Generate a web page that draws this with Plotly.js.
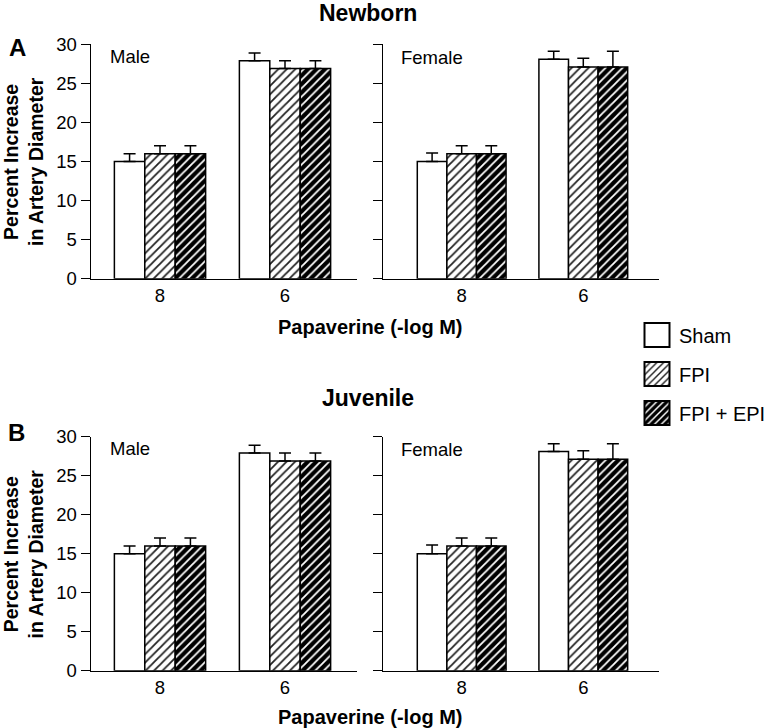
<!DOCTYPE html>
<html><head><meta charset="utf-8">
<script src="https://cdn.plot.ly/plotly-3.0.1.min.js"></script>
<style>body{margin:0;background:#fff}</style>
</head><body><div id="chart" style="width:771px;height:728px"></div>
<script>
// ---- data ----
const categories = ['8', '6'];          // Papaverine (-log M)
const xPositions = [0, 1];
const seriesNames = ['Sham', 'FPI', 'FPI + EPI'];

// Newborn (panel A)
const newbornMaleSham = [15.0, 27.9];
const newbornMaleFPI = [16.0, 26.9];
const newbornMaleFPIEPI = [16.0, 26.9];
const newbornMaleShamErr = [1.0, 1.0];
const newbornMaleFPIErr = [1.0, 1.0];
const newbornMaleFPIEPIErr = [1.0, 1.0];

const newbornFemaleSham = [15.0, 28.1];
const newbornFemaleFPI = [16.0, 27.1];
const newbornFemaleFPIEPI = [16.0, 27.1];
const newbornFemaleShamErr = [1.1, 1.0];
const newbornFemaleFPIErr = [1.0, 1.1];
const newbornFemaleFPIEPIErr = [1.0, 2.0];

// Juvenile (panel B)
const juvenileMaleSham = [15.0, 27.9];
const juvenileMaleFPI = [16.0, 26.9];
const juvenileMaleFPIEPI = [16.0, 26.9];
const juvenileMaleShamErr = [1.0, 1.0];
const juvenileMaleFPIErr = [1.0, 1.0];
const juvenileMaleFPIEPIErr = [1.0, 1.0];

const juvenileFemaleSham = [15.0, 28.1];
const juvenileFemaleFPI = [16.0, 27.1];
const juvenileFemaleFPIEPI = [16.0, 27.1];
const juvenileFemaleShamErr = [1.1, 1.0];
const juvenileFemaleFPIErr = [1.0, 1.1];
const juvenileFemaleFPIEPIErr = [1.0, 2.0];

const noLowerErr = [0, 0];

// ---- styling ----
const FONT = 'Liberation Sans, Arial, sans-serif';
const seriesStyles = [
  {color: 'white', line: {color: 'black', width: 1.5}},
  {color: 'white', line: {color: 'black', width: 1.5},
   pattern: {shape: '/', fgcolor: '#222', bgcolor: 'white', size: 6, solidity: 0.3}},
  {color: 'black', line: {color: 'black', width: 1.5},
   pattern: {shape: '/', fgcolor: 'white', bgcolor: 'black', size: 6, solidity: 0.3}}
];
const groupIds = ['sham', 'fpi', 'fpiepi'];

const panels = [
  {xa: 'x',  ya: 'y',  vals: [newbornMaleSham, newbornMaleFPI, newbornMaleFPIEPI],
   errs: [newbornMaleShamErr, newbornMaleFPIErr, newbornMaleFPIEPIErr], legend: true},
  {xa: 'x2', ya: 'y2', vals: [newbornFemaleSham, newbornFemaleFPI, newbornFemaleFPIEPI],
   errs: [newbornFemaleShamErr, newbornFemaleFPIErr, newbornFemaleFPIEPIErr], legend: false},
  {xa: 'x3', ya: 'y3', vals: [juvenileMaleSham, juvenileMaleFPI, juvenileMaleFPIEPI],
   errs: [juvenileMaleShamErr, juvenileMaleFPIErr, juvenileMaleFPIEPIErr], legend: false},
  {xa: 'x4', ya: 'y4', vals: [juvenileFemaleSham, juvenileFemaleFPI, juvenileFemaleFPIEPI],
   errs: [juvenileFemaleShamErr, juvenileFemaleFPIErr, juvenileFemaleFPIEPIErr], legend: false}
];

const traces = [];
panels.forEach(p => {
  p.vals.forEach((v, i) => {
    traces.push({
      type: 'bar', x: xPositions, y: v, name: seriesNames[i],
      xaxis: p.xa, yaxis: p.ya,
      legendgroup: groupIds[i], showlegend: p.legend,
      marker: seriesStyles[i],
      error_y: {type: 'data', symmetric: false, array: p.errs[i], arrayminus: noLowerErr,
                color: 'black', thickness: 1.5, width: 6},
      hoverinfo: 'skip'
    });
  });
});

const W = 771, H = 728;
const px = v => v / W, py = v => 1 - v / H;

const xMaleDomain = [px(91), px(357)];
const xFemaleDomain = [px(383), px(659.3)];
const yTopDomain = [py(278.7), py(44.3)];
const yBotDomain = [py(670.7), py(436.7)];

function xAxis(domain, range, anchor) {
  return {domain, range, anchor, tickvals: xPositions, ticktext: categories,
    showline: true, linecolor: 'black', linewidth: 1.5, ticks: '',
    showgrid: false, zeroline: false, fixedrange: true,
    tickfont: {family: FONT, size: 18.5, color: 'black'}};
}
function yAxis(domain, anchor, labels) {
  return {domain, anchor, range: [0, 30], dtick: 5, tick0: 0,
    showline: true, linecolor: 'black', linewidth: 1.5,
    ticks: 'outside', ticklen: 9, tickwidth: 1.5, tickcolor: 'black',
    showgrid: false, zeroline: false, showticklabels: labels, fixedrange: true,
    tickfont: {family: FONT, size: 18.5, color: 'black'}};
}

const maleRange = [-0.552, 1.576];
const femaleRange = [-0.647, 1.625];

function ann(text, x, y, size, bold, xanchor, angle) {
  return {text: bold ? '<b>' + text + '</b>' : text, xref: 'paper', yref: 'paper',
    x: px(x), y: py(y), xanchor: xanchor || 'center', yanchor: 'middle', showarrow: false,
    textangle: angle || 0,
    font: {family: FONT, size, color: 'black'}};
}
const yTitle = 'Percent Increase<br>in Artery Diameter';

const layout = {
  width: W, height: H, margin: {l: 0, r: 0, t: 0, b: 0},
  paper_bgcolor: 'white', plot_bgcolor: 'white',
  barmode: 'group', bargap: 0.27, bargroupgap: 0,
  font: {family: FONT, color: 'black'},
  xaxis: xAxis(xMaleDomain, maleRange, 'y'),
  yaxis: yAxis(yTopDomain, 'x', true),
  xaxis2: xAxis(xFemaleDomain, femaleRange, 'y2'),
  yaxis2: yAxis(yTopDomain, 'x2', false),
  xaxis3: xAxis(xMaleDomain, maleRange, 'y3'),
  yaxis3: yAxis(yBotDomain, 'x3', true),
  xaxis4: xAxis(xFemaleDomain, femaleRange, 'y4'),
  yaxis4: yAxis(yBotDomain, 'x4', false),
  showlegend: true,
  legend: {x: px(639), xanchor: 'left', y: py(315.5), yanchor: 'top',
    font: {family: FONT, size: 20, color: 'black'},
    traceorder: 'grouped', tracegroupgap: 10, bgcolor: 'rgba(0,0,0,0)'},
  annotations: [
    ann('Newborn', 368, 13, 23, true),
    ann('Juvenile', 368, 398, 23, true),
    ann('A', 17, 47.5, 24, true),
    ann('B', 16, 432.5, 24, true),
    ann('Male', 108, 56.5, 18.5, false, 'left'),
    ann('Female', 399, 58, 18.5, false, 'left'),
    ann('Male', 108, 448.5, 18.5, false, 'left'),
    ann('Female', 399, 449.5, 18.5, false, 'left'),
    ann(yTitle, 23.5, 161.5, 19.5, true, 'center', -90),
    ann(yTitle, 23.5, 553.9, 19.5, true, 'center', -90),
    ann('Papaverine (-log M)', 370, 327, 20, true),
    ann('Papaverine (-log M)', 370, 717, 20, true)
  ]
};

Plotly.newPlot('chart', traces, layout, {staticPlot: true, displayModeBar: false}).then(gd => {
  gd.querySelectorAll('.legend .legendpoints path').forEach(p => {
    p.setAttribute('d', 'M10.5,12H-14.5V-12H10.5Z');
    p.style.strokeWidth = '2px';
  });
});
</script>
</body></html>
